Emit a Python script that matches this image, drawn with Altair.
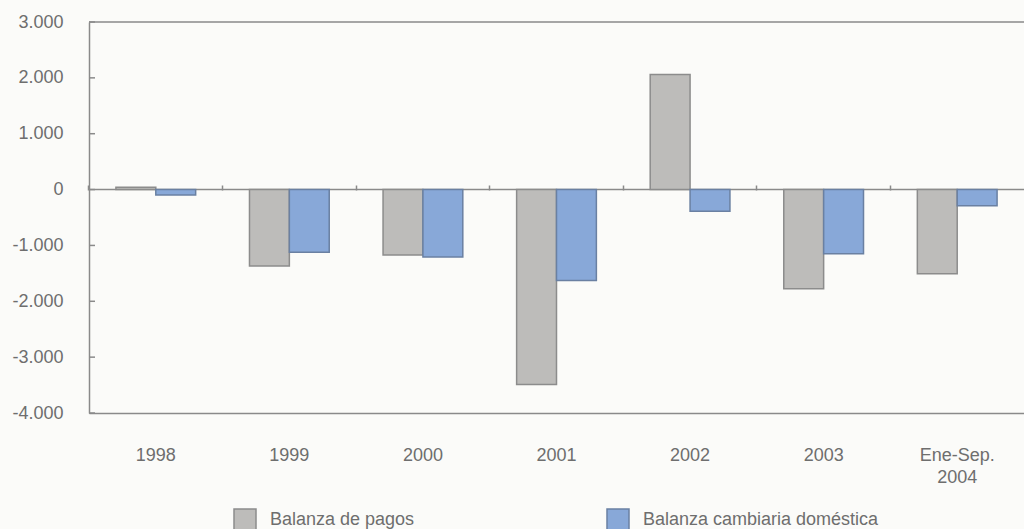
import altair as alt
import pandas as pd

# Balanza de pagos vs. balanza cambiaria doméstica (millones de US$)
categorias = ["1998", "1999", "2000", "2001", "2002", "2003", "Ene-Sep. 2004"]
series = ["Balanza de pagos", "Balanza cambiaria doméstica"]
balanza_pagos = [40, -1370, -1170, -3490, 2060, -1775, -1505]
balanza_cambiaria = [-95, -1120, -1205, -1630, -390, -1150, -290]
y_ticks = [-4000, -3000, -2000, -1000, 0, 1000, 2000, 3000]

fills = ["#bdbcba", "#88a8d8"]
strokes = ["#8c8c8c", "#6a80a2"]

FONT = "Liberation Sans"
TEXT = "#6e6e6e"
LINE = "#8a8a8a"
W, H = 935, 391

rows = []
for c, a, b in zip(categorias, balanza_pagos, balanza_cambiaria):
    rows.append({"cat": c, "serie": series[0], "valor": a})
    rows.append({"cat": c, "serie": series[1], "valor": b})
df = pd.DataFrame(rows)

y_scale = alt.Scale(domain=[-4000, 3000], nice=False, zero=False)
x_scale = alt.Scale(type="band", domain=categorias, paddingInner=0, paddingOuter=0)

y_axis = alt.Axis(
    values=y_ticks,
    labelExpr="(datum.value < 0 ? '-' : '') + replace(format(abs(datum.value), ','), ',', '.')",
    grid=False, ticks=False, tickSize=0, labelPadding=26,
    domain=True, domainColor=LINE, domainWidth=1.5,
    labelFont=FONT, labelFontSize=18, labelColor=TEXT, title=None,
)

x_axis = alt.Axis(
    orient="bottom", ticks=False, tickSize=0, labelPadding=42,
    labelBaseline="middle", labelAngle=0, labelExpr="split(datum.label, ' ')",
    labelLineHeight=22, domain=True, domainColor=LINE, domainWidth=1.5,
    labelFont=FONT, labelFontSize=18, labelColor=TEXT, title=None,
)

# small boundary ticks sitting on the zero line
zero_ticks_axis = alt.Axis(
    orient="top", offset=-168, labels=False, domain=False, ticks=True,
    tickSize=5, tickColor=LINE, tickWidth=1.5, bandPosition=0, title=None,
)

bars = alt.Chart(df).mark_bar(strokeWidth=1.5).encode(
    x=alt.X("cat:N", scale=x_scale, axis=x_axis, sort=categorias),
    xOffset=alt.XOffset("serie:N", sort=series,
                        scale=alt.Scale(domain=series, paddingInner=0, paddingOuter=0.675)),
    y=alt.Y("valor:Q", scale=y_scale, axis=y_axis),
    fill=alt.Fill(
        "serie:N", sort=series,
        scale=alt.Scale(domain=series, range=fills),
        legend=alt.Legend(
            title=None, orient="none", legendX=144, legendY=486,
            direction="horizontal", symbolType="square", symbolSize=484,
            symbolStrokeColor="#8c8c8c", symbolStrokeWidth=1.5,
            labelFont=FONT, labelFontSize=18, labelColor=TEXT, labelLimit=400,
            labelOffset=13, columnPadding=189, padding=0,
        ),
    ),
    stroke=alt.Stroke("serie:N", sort=series,
                      scale=alt.Scale(domain=series, range=strokes), legend=None),
)

tick_layer = alt.Chart(pd.DataFrame({"cat": categorias, "v": [0] * 7})).mark_point(opacity=0).encode(
    x=alt.X("cat:N", scale=x_scale, axis=zero_ticks_axis, sort=categorias),
    y=alt.Y("v:Q", scale=y_scale),
)

y_tick_marks = alt.Chart(pd.DataFrame({"v": y_ticks})).mark_rule(
    color=LINE, strokeWidth=1.5
).encode(y=alt.Y("v:Q", scale=y_scale), x=alt.value(0), x2=alt.value(6))

zero_line = alt.Chart(pd.DataFrame({"v": [0]})).mark_rule(
    color=LINE, strokeWidth=1.5
).encode(y=alt.Y("v:Q", scale=y_scale), x=alt.value(0), x2=alt.value(W))

top_line = alt.Chart(pd.DataFrame({"v": [3000]})).mark_rule(
    color=LINE, strokeWidth=1.5
).encode(y=alt.Y("v:Q", scale=y_scale), x=alt.value(0), x2=alt.value(W))

chart = alt.layer(
    top_line, zero_line, y_tick_marks, tick_layer, bars
).properties(
    width=W, height=H,
    autosize=alt.AutoSizeParams(type="none"),
    padding={"left": 89, "top": 22, "right": 0, "bottom": 116},
    background="#fbfbf9",
).configure_view(stroke=None)

chart.save("out.html", embed_options={"renderer": "svg", "actions": False})
